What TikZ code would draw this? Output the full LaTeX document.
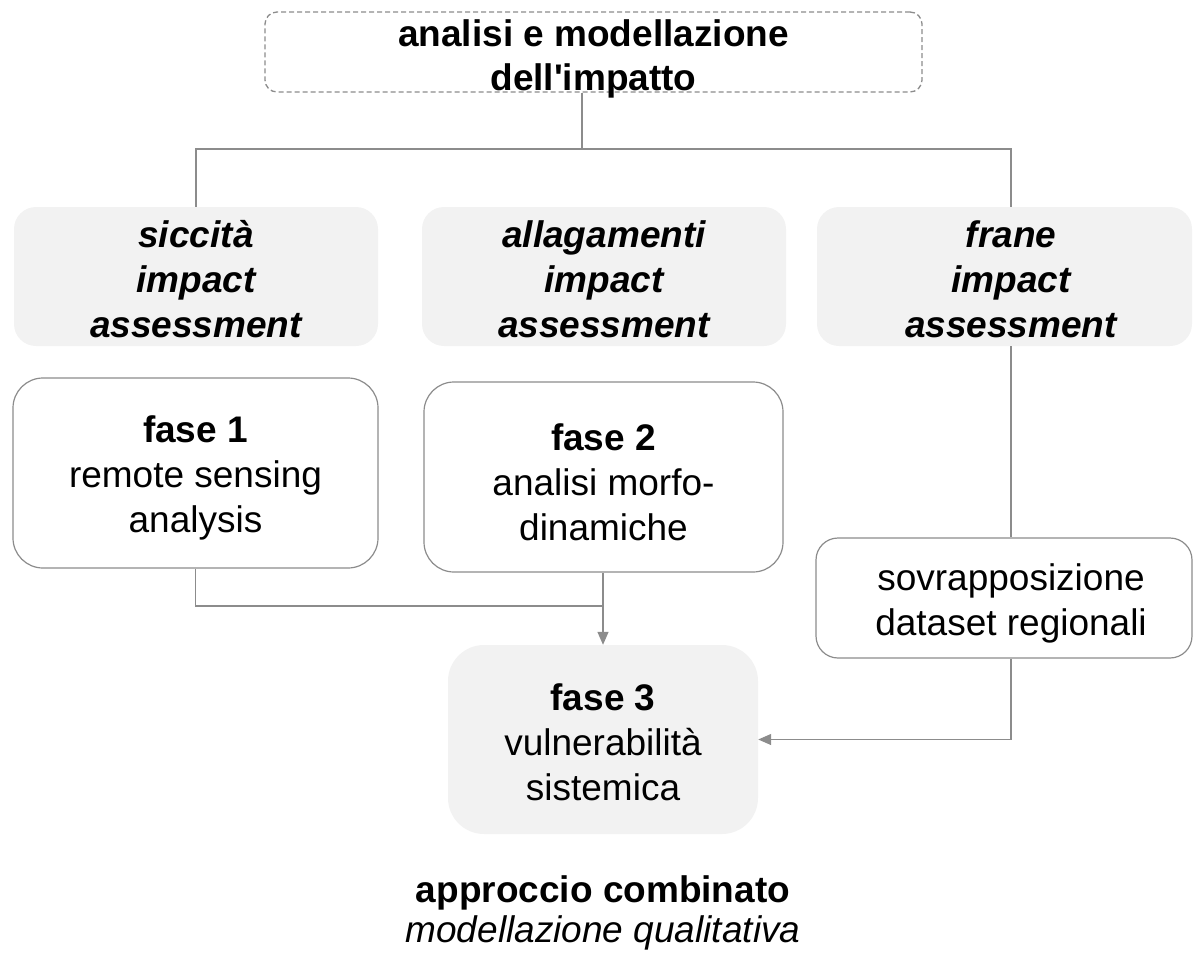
\documentclass[tikz,border=0pt]{standalone}
\usepackage{fontspec}
\setmainfont{Liberation Sans}[Ligatures=TeXOff]
\usetikzlibrary{arrows.meta}
\definecolor{boxgray}{HTML}{F2F2F2}
\definecolor{linegray}{HTML}{8C8C8C}
\begin{document}
\begin{tikzpicture}[x=1pt,y=-1pt,
  base/.style={inner sep=0pt, align=center, text=black,
    font=\fontsize{37}{45}\selectfont},
  topbox/.style={draw=linegray, line width=1.3pt,
    dash pattern=on 5pt off 3pt, rounded corners=12pt,
    minimum width=657pt, minimum height=80pt, inner sep=0pt},
  hazard/.style={fill=boxgray, rounded corners=22pt,
    minimum height=139pt, inner sep=0pt},
  hazardtext/.style={base,
    font=\fontsize{37}{45}\selectfont\bfseries\itshape},
  phase/.style={draw=linegray, line width=1.2pt, fill=white,
    rounded corners=30pt, minimum height=190pt, inner sep=0pt},
  conn/.style={draw=linegray, line width=1.3pt},
  arr/.style={conn, -{Triangle[length=13pt,width=11pt]}}]

\useasboundingbox (0,0) rectangle (1193,953);

% title
\node[topbox] (top) at (593.5,52) {};
\node[base, font=\fontsize{37}{44}\selectfont\bfseries] (top-t)
  at (593.5,59) {analisi e modellazione\\dell'impatto};

% hazard boxes
\node[hazard, minimum width=364pt] (siccita) at (196,276.5) {};
\node[hazardtext] (siccita-t) at (196,279) {siccità\\impact\\assessment};
\node[hazard, minimum width=364pt] (allag) at (604,276.5) {};
\node[hazardtext] (allag-t) at (604,279) {allagamenti\\impact\\assessment};
\node[hazard, minimum width=375pt] (frane) at (1004.5,276.5) {};
\node[hazardtext] (frane-t) at (1011,279) {frane\\impact\\assessment};

% phase boxes
\node[phase, minimum width=365pt] (fase1) at (195.5,473) {};
\node[base] (fase1-t) at (195.5,478)
  {\textbf{fase 1}\\remote sensing\\analysis};
\node[phase, minimum width=359pt] (fase2) at (603.5,477) {};
\node[base] (fase2-t) at (603.5,482)
  {\textbf{fase 2}\\analisi morfo-\\dinamiche};
\node[phase, minimum width=376pt, minimum height=120pt, rounded corners=22pt]
  (sovr) at (1004,598) {};
\node[base] (sovr-t) at (1011,603) {sovrapposizione\\dataset regionali};
\node[fill=boxgray, rounded corners=36pt, minimum width=310pt,
  minimum height=189pt, inner sep=0pt] (fase3) at (603,739.5) {};
\node[base] (fase3-t) at (603,742)
  {\textbf{fase 3}\\vulnerabilità\\sistemica};

% caption
\node[base, font=\fontsize{37}{40}\selectfont] (combo) at (603,913)
  {\textbf{approccio combinato}\\\textit{modellazione qualitativa}};

% junction points
\coordinate (bus) at (582,149);
\coordinate (busR) at (1011,149);
\coordinate (merge) at (603,606);

% connectors
\draw[conn] (top.south -| bus) -- (bus);
\draw[conn] (siccita.north) -- (siccita.north |- bus) -- (busR)
  -- (busR |- frane.north);
\draw[conn] (busR |- frane.south) -- (busR |- sovr.north);
\draw[arr] (busR |- sovr.south) |- (fase3.east);
\draw[conn] (fase2.south -| merge) -- (merge);
\draw[arr] (fase1.south) |- (merge) -- (fase3.north);
\end{tikzpicture}
\end{document}
